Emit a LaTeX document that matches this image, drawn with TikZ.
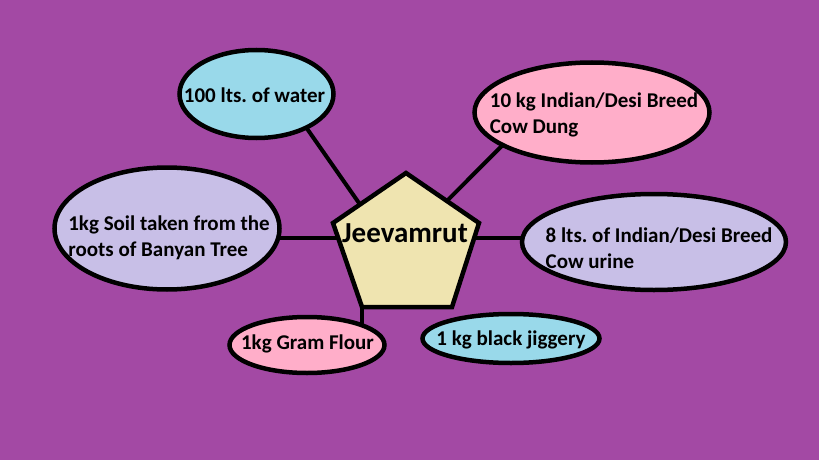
\documentclass[tikz,border=0pt]{standalone}
\usepackage{fontspec}
\setmainfont{Carlito}
\usetikzlibrary{shapes.geometric,calc}
\pgfdeclarelayer{bgzero}
\pgfdeclarelayer{links}
\pgfsetlayers{bgzero,links,main}
\definecolor{bgpurple}{RGB}{163,73,164}
\definecolor{lblue}{RGB}{153,217,234}
\definecolor{lpink}{RGB}{255,174,201}
\definecolor{llav}{RGB}{200,191,231}
\definecolor{lbeige}{RGB}{239,228,176}
\frenchspacing
\begin{document}
\begin{tikzpicture}[x=1pt,y=-1pt,
  ell/.style={ellipse,draw=black,line width=4.5pt,inner sep=0pt,outer sep=0pt},
  txt/.style={font=\bfseries\fontsize{21}{26}\selectfont,align=left,inner sep=0pt},
  conn/.style={line width=4pt,black}]
\begin{pgfonlayer}{bgzero}
\fill[bgpurple] (0,0) rectangle (819,460);
\end{pgfonlayer}
\useasboundingbox (0,0) rectangle (819,460);

% pentagon
\coordinate (pt) at (406,173);
\coordinate (pl) at (333,223);
\coordinate (pbl) at (362,307);
\coordinate (pbr) at (452,307);
\coordinate (pr) at (479,223);
\draw[fill=lbeige,line width=4.5pt,line join=miter] (pt) -- (pl) -- (pbl) -- (pbr) -- (pr) -- cycle;
\node[font=\bfseries\fontsize{29}{32}\selectfont,inner sep=0pt] (jv) at (405,233) {Jeevamrut};

% ellipses
\node[ell,fill=lblue,minimum width=154pt,minimum height=88pt] (water) at (256.5,94) {};
\node[txt] (watert) at ($(water)+(-2,1)$) {100 lts. of water};
\node[ell,fill=lpink,minimum width=235pt,minimum height=100pt] (dung) at (592,112.5) {};
\node[txt] (dungt) at ($(dung)+(2,2.5)$) {10 kg Indian/Desi Breed\\Cow Dung};
\node[ell,fill=llav,minimum width=225pt,minimum height=122pt] (soil) at (167,228.5) {};
\node[txt] (soilt) at ($(soil)+(2,9.5)$) {1kg Soil taken from the\\roots of Banyan Tree};
\node[ell,fill=llav,minimum width=264pt,minimum height=96pt] (urine) at (654,242) {};
\node[txt] (urinet) at ($(urine)+(5,6)$) {8 lts. of Indian/Desi Breed\\Cow urine};
\node[ell,fill=lpink,minimum width=155pt,minimum height=56pt] (gram) at (307,345) {};
\node[txt] (gramt) at ($(gram)+(0.5,-1)$) {1kg Gram Flour};
\node[ell,fill=lblue,minimum width=177pt,minimum height=49pt] (jig) at (511,338.5) {};
\node[txt] (jigt) at ($(jig)+(0,1.5)$) {1 kg black jiggery};

% connectors
\coordinate (wp) at ($(pt)!0.63!(pl)$);
\coordinate (dp) at ($(pt)!0.56!(pr)$);
\coordinate (sp) at ($(pl)!0.18!(pbl)$);
\coordinate (up) at ($(pr)!0.18!(pbr)$);
\begin{pgfonlayer}{links}
\draw[conn] (water.-34) -- (wp);
\draw[conn] (dung.200) -- (dp);
\draw[conn] (sp) -- (sp -| soil.center);
\draw[conn] (up) -- (up -| urine.center);
\draw[conn] (pbl) -- (pbl |- gram.center);
\end{pgfonlayer}
\end{tikzpicture}
\end{document}
